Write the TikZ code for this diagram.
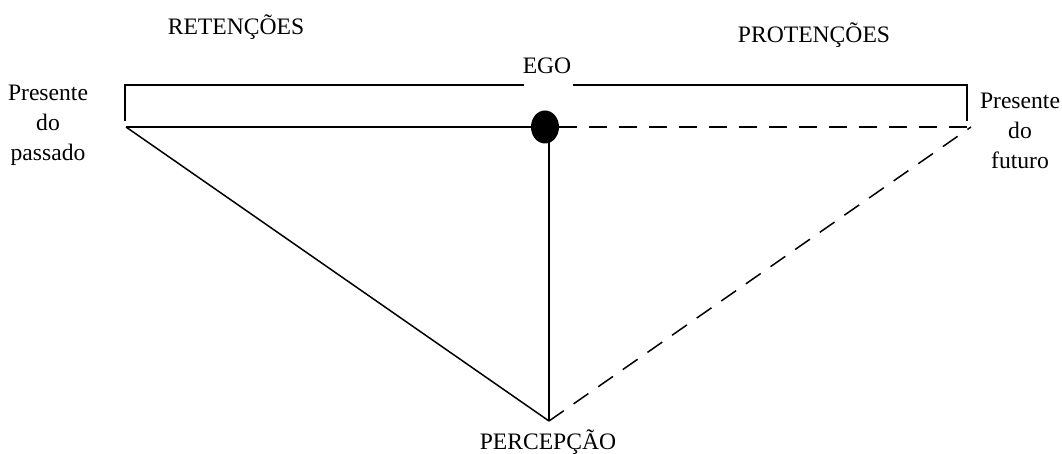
\documentclass[tikz,border=0pt]{standalone}
\usepackage{fontspec}
\setmainfont{Liberation Serif}
\usepackage{tikz}
\usetikzlibrary{shapes.geometric}

\begin{document}
\begin{tikzpicture}[
x=0.5pt, y=-0.5pt,
label/.style={align=center, inner sep=0pt, font=\fontsize{11.8}{15}\selectfont},
line/.style={line width=0.75pt},
dline/.style={line width=0.75pt, dash pattern=on 9pt off 6pt}
]
\useasboundingbox (0,0) rectangle (1062,454);

\node[label] (ret) at (236,27) {RETENÇÕES};
\node[label] (prot) at (814,35) {PROTENÇÕES};
\node[label] (ego) at (547,66) {EGO};
\node[label] (passado) at (48,125) {Presente\\do\\passado};
\node[label] (futuro) at (1020,131) {Presente\\do\\futuro};
\node[label] (percepcao) at (548,442) {PERCEPÇÃO};

\node[ellipse, fill, inner sep=0pt, minimum width=14pt, minimum height=16.5pt] (dot) at (545,127) {};

\coordinate (pp) at (126,127);
\coordinate (pf) at (971,127);
\coordinate (pc) at (549,421);
\coordinate (tl) at (125,85);
\coordinate (tr) at (967,85);
\coordinate (gl) at (524,85);
\coordinate (gr) at (573,85);

% colchete superior
\draw[line] ([yshift=-18]tl) -- (tl) -- (gl);
\draw[line] (gr) -- (tr) -- ([yshift=-18]tr);

% triangulo
\draw[line] (pp) -- (dot);
\draw[dline] (dot) -- (pf);
\draw[line] (dot.center -| pc) -- (pc);
\draw[line] (pp) -- (pc);
\draw[dline] (pc) -- (pf);
\end{tikzpicture}
\end{document}
